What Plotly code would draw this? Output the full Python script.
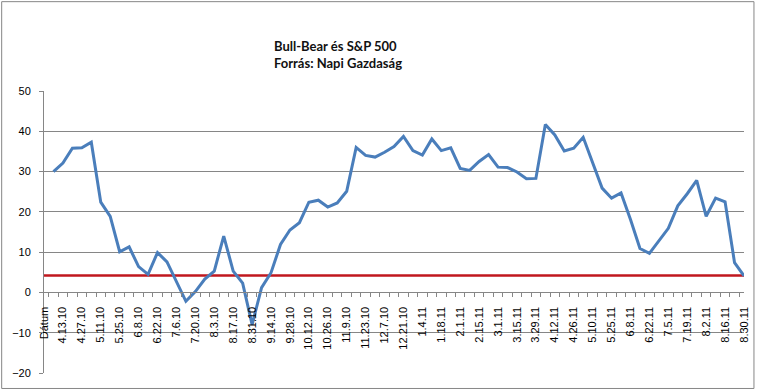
import plotly.graph_objects as go

# ---- data ----
categories = [
    "Dátum", "4.6.10", "4.13.10", "4.20.10", "4.27.10", "5.4.10", "5.11.10", "5.18.10",
    "5.25.10", "6.1.10", "6.8.10", "6.15.10", "6.22.10", "6.29.10", "7.6.10", "7.13.10",
    "7.20.10", "7.27.10", "8.3.10", "8.10.10", "8.17.10", "8.24.10", "8.31.10", "9.7.10",
    "9.14.10", "9.21.10", "9.28.10", "10.5.10", "10.12.10", "10.19.10", "10.26.10", "11.2.10",
    "11.9.10", "11.16.10", "11.23.10", "11.30.10", "12.7.10", "12.14.10", "12.21.10", "12.28.10",
    "1.4.11", "1.11.11", "1.18.11", "1.25.11", "2.1.11", "2.8.11", "2.15.11", "2.22.11",
    "3.1.11", "3.8.11", "3.15.11", "3.22.11", "3.29.11", "4.5.11", "4.12.11", "4.19.11",
    "4.26.11", "5.3.11", "5.10.11", "5.17.11", "5.25.11", "6.1.11", "6.8.11", "6.15.11",
    "6.22.11", "6.29.11", "7.5.11", "7.12.11", "7.19.11", "7.26.11", "8.2.11", "8.9.11",
    "8.16.11", "8.23.11", "8.30.11",
]

bull_bear = [
    None, 30.0, 32.1, 35.8, 35.9, 37.3, 22.4, 18.9,
    10.1, 11.3, 6.4, 4.5, 9.9, 7.6, 2.5, -2.2,
    0.2, 3.3, 5.3, 14.0, 5.3, 2.3, -8.0, 1.2,
    4.9, 11.9, 15.5, 17.3, 22.4, 22.9, 21.2, 22.2,
    25.1, 36.0, 34.0, 33.6, 34.8, 36.2, 38.7, 35.2,
    34.1, 38.1, 35.2, 35.9, 30.8, 30.3, 32.5, 34.2,
    31.1, 31.0, 29.9, 28.2, 28.3, 41.7, 39.1, 35.1,
    35.8, 38.5, 32.2, 25.9, 23.4, 24.7, 18.1, 10.9,
    9.7, 12.7, 15.9, 21.5, 24.5, 27.8, 18.9, 23.4,
    22.5, 7.4, 4.1,
]

reference_level = [4.2] * len(categories)

tick_labels = [c if i % 2 == 0 else "" for i, c in enumerate(categories)]

title_lines = ["Bull-Bear és S&P 500", "Forrás: Napi Gazdaság"]

y_min, y_max, y_step = -20, 50, 10

# ---- figure ----
GRID = "#868686"

fig = go.Figure()
fig.add_trace(go.Scatter(
    x=categories, y=reference_level, mode="lines",
    line=dict(color="#C0171E", width=2.5), hoverinfo="skip",
))
fig.add_trace(go.Scatter(
    x=categories, y=bull_bear, mode="lines",
    line=dict(color="#4A7EBB", width=3), connectgaps=False,
))

fig.update_layout(
    width=762, height=391,
    margin=dict(l=44, r=15, t=91, b=17.5),
    paper_bgcolor="white", plot_bgcolor="white",
    showlegend=False,
    font=dict(family="'Liberation Sans', Arial, sans-serif", size=11, color="#000000"),
    xaxis=dict(
        type="category",
        categoryorder="array", categoryarray=categories,
        tickmode="array", tickvals=categories, ticktext=tick_labels,
        tickson="boundaries",
        tickangle=-90,
        ticks="outside", ticklen=4, tickcolor=GRID, tickwidth=1,
        ticklabelstandoff=9,
        showline=True, linecolor=GRID, linewidth=1,
        showgrid=False, zeroline=False,
        anchor="free", position=(0 - y_min) / (y_max - y_min),
        tickfont=dict(size=11, color="#000000"),
        fixedrange=True,
    ),
    yaxis=dict(
        range=[y_min, y_max], dtick=y_step, tick0=0,
        showgrid=True, gridcolor=GRID, gridwidth=1,
        showline=True, linecolor=GRID, linewidth=1,
        ticks="outside", ticklen=4, tickcolor=GRID,
        ticklabelstandoff=6,
        zeroline=False,
        tickfont=dict(size=11, color="#000000"),
        fixedrange=True,
    ),
)

# title (two lines, left aligned)
fig.add_annotation(
    xref="paper", yref="paper",
    x=(273 - 44) / 703, y=(373.5 - 54) / 282.5,
    xanchor="left", yanchor="middle", align="left",
    text="<b>" + "<br>".join(title_lines) + "</b>",
    showarrow=False,
    font=dict(family="Lato, sans-serif", size=13, color="#111111"),
)

# outer chart border
fig.add_shape(
    type="rect", xref="paper", yref="paper",
    x0=(1.5 - 44) / 703, x1=(757 - 44) / 703,
    y0=(373.5 - 389) / 282.5, y1=(373.5 - 1.5) / 282.5,
    line=dict(color=GRID, width=1), fillcolor="rgba(0,0,0,0)", layer="below",
)

fig.write_html(
    "out.html",
    config={"displayModeBar": False},
    post_script="document.body.style.margin='0';document.body.style.overflow='hidden';",
)
